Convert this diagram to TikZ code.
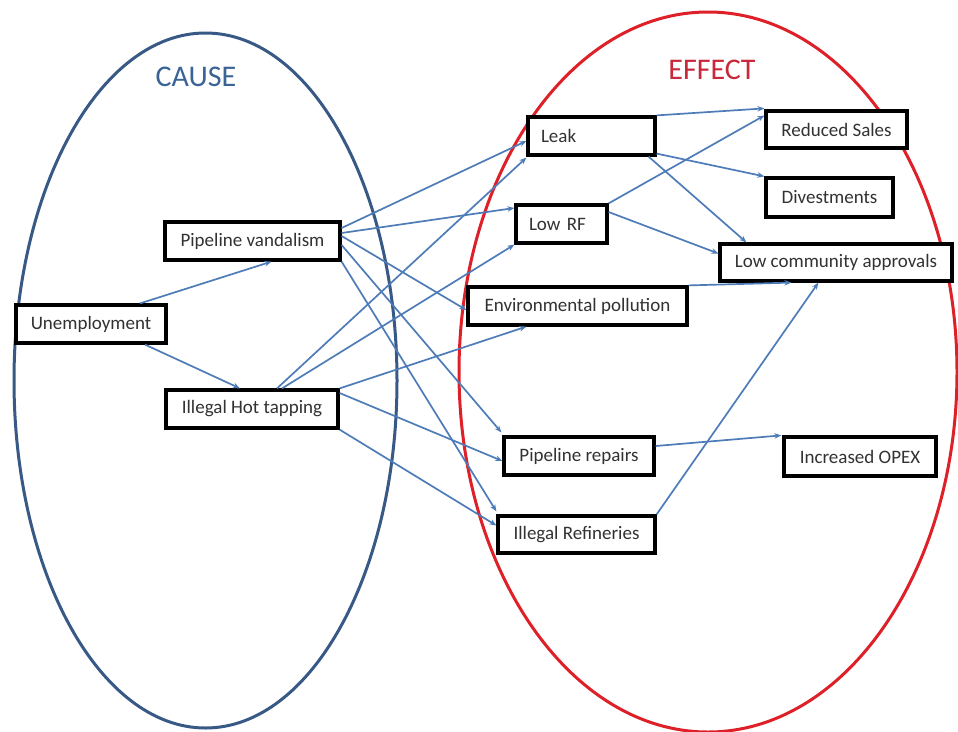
\documentclass[tikz,border=0pt]{standalone}
\usepackage{fontspec}
\setmainfont{Carlito}
\usetikzlibrary{arrows.meta,calc}

\definecolor{causeline}{RGB}{56,88,134}
\definecolor{causetext}{RGB}{58,100,150}
\definecolor{effectline}{RGB}{222,32,40}
\definecolor{effecttext}{RGB}{200,40,58}
\definecolor{linkblue}{RGB}{78,124,184}
\definecolor{boxtext}{RGB}{50,50,50}

\tikzset{
  box/.style={draw=black, line width=3.2pt, fill=white, text=boxtext,
    minimum height=38pt, inner xsep=4pt, inner ysep=0pt,
    font=\fontsize{19}{22}\selectfont},
  leftbox/.style={box, align=left},
  link/.style={draw=linkblue, line width=1.7pt,
    -{Stealth[length=7pt,width=5.5pt]}},
  setring/.style={line width=3pt},
  heading/.style={font=\fontsize{30}{34}\selectfont}
}

\begin{document}
\begin{tikzpicture}[x=1pt,y=-1pt]
  \useasboundingbox[fill=white] (0,0) rectangle (958,731);

  % the two sets
  \draw[setring, causeline] (205.5,380.5) ellipse [x radius=191.5, y radius=347.5];
  \draw[setring, effectline] (708,372) ellipse [x radius=249, y radius=360];
  \node[heading, text=causetext] (causelbl) at (196,77) {CAUSE};
  \node[heading, text=effecttext] (effectlbl) at (712,70) {EFFECT};

  % causes
  \node[box, minimum width=150pt] (unemp) at (91,324) {Unemployment};
  \node[box, minimum width=175pt] (pv) at (252.5,241) {Pipeline vandalism};
  \node[box, minimum width=172pt] (iht) at (252,409) {Illegal Hot tapping};

  % effects
  \node[leftbox, minimum width=127pt, text width=101pt, inner xsep=13pt] (leak) at (591.5,136) {Leak};
  \node[leftbox, minimum width=91pt, text width=65pt, inner xsep=13pt] (lowrf) at (561.5,224) {Low RF};
  \node[box, minimum width=219pt] (envp) at (577.5,306) {Environmental pollution};
  \node[box, minimum width=141pt, minimum height=37pt] (rsales) at (836.5,129.5) {Reduced Sales};
  \node[box, minimum width=127pt, minimum height=39pt] (divest) at (829.5,197.5) {Divestments};
  \node[box, minimum width=232pt, minimum height=37pt] (lca) at (836,262.5) {Low community approvals};
  \node[box, minimum width=150pt] (prep) at (579,456) {Pipeline repairs};
  \node[box, minimum width=152pt, minimum height=39pt] (opex) at (860,456.5) {Increased OPEX};
  \node[box, minimum width=157pt, minimum height=37pt] (irefs) at (576.5,534.5) {Illegal Refineries};

  % cause links
  \path[link] ($(unemp.north)+(49,0)$) -- ($(pv.south)+(19,0)$);
  \path[link] ($(unemp.south)+(54,0)$) -- ($(iht.north)+(-12,0)$);

  \path[link] ($(pv.east)+(0,-13)$) -- ($(leak.west)+(0,5)$);
  \path[link] ($(pv.east)+(0,-8)$) -- ($(lowrf.west)+(0,-16)$);
  \path[link] ($(pv.east)+(0,-5)$) -- ($(envp.west)+(0,4)$);
  \path[link] ($(pv.east)+(0,4)$) -- ($(prep.north west)+(-1,-3)$);
  \path[link] (pv.south east) -- ($(irefs.north west)+(0,-3)$);

  \path[link] ($(iht.north)+(25,0)$) -- ($(leak.south west)+(0,1)$);
  \path[link] ($(iht.north)+(30,0)$) -- (lowrf.south west);
  \path[link] (iht.north east) -- ($(envp.south west)+(60,0)$);
  \path[link] ($(iht.east)+(0,-16)$) -- ($(prep.west)+(0,5)$);
  \path[link] (iht.south east) -- ($(irefs.west)+(0,-9)$);

  % effect links
  \path[link] (leak.north east) -- ($(rsales.north west)+(0,-1)$);
  \path[link] ($(leak.south east)+(0,-3)$) -- (divest.north west);
  \path[link] ($(leak.south east)+(-8,0)$) -- ($(lca.north west)+(28,0)$);
  \path[link] (lowrf.north east) -- ($(rsales.west)+(0,-14)$);
  \path[link] ($(lowrf.east)+(0,-12)$) -- ($(lca.west)+(0,-9)$);
  \path[link] (envp.north east) -- ($(lca.south west)+(73,0)$);
  \path[link] (irefs.north east) -- ($(lca.south west)+(100,0)$);
  \path[link] ($(prep.east)+(0,-10)$) -- ($(opex.north west)+(-1,0)$);
\end{tikzpicture}
\end{document}
